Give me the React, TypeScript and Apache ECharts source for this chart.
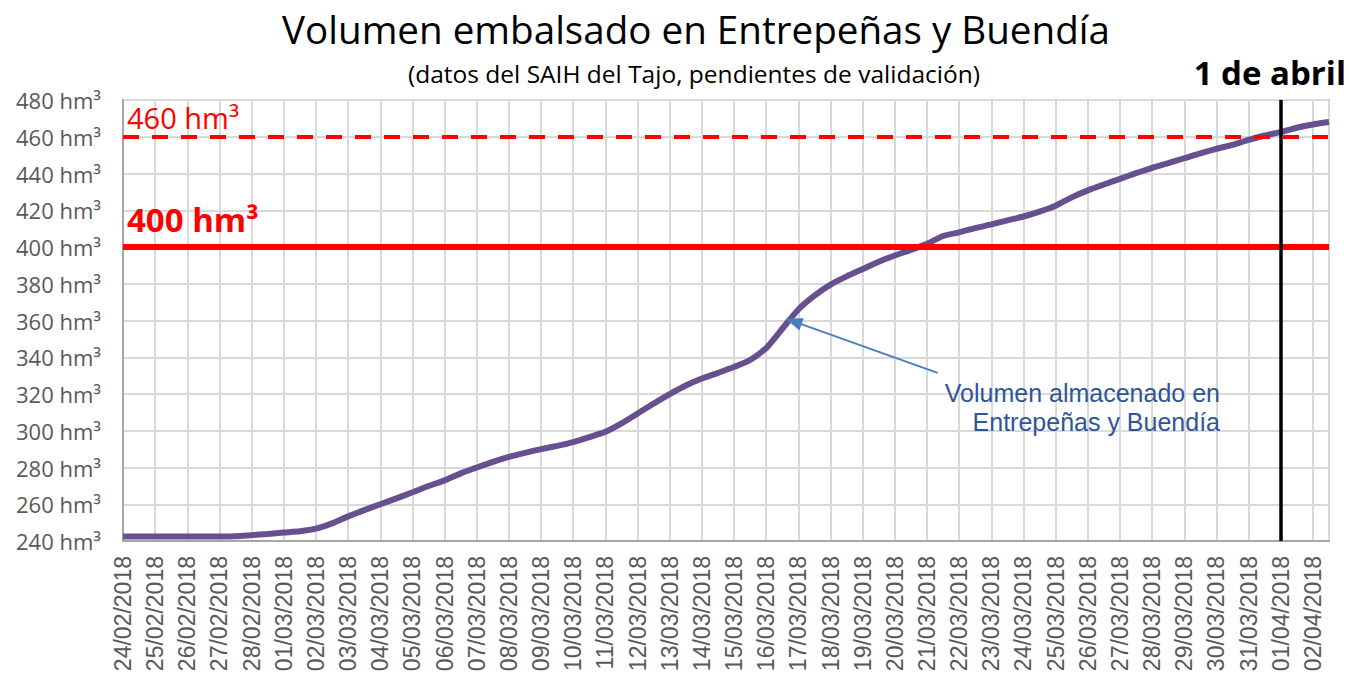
import React, { useEffect, useRef } from "react";
import * as echarts from "echarts";

const dates = [
  "24/02/2018", "25/02/2018", "26/02/2018", "27/02/2018", "28/02/2018",
  "01/03/2018", "02/03/2018", "03/03/2018", "04/03/2018", "05/03/2018",
  "06/03/2018", "07/03/2018", "08/03/2018", "09/03/2018", "10/03/2018",
  "11/03/2018", "12/03/2018", "13/03/2018", "14/03/2018", "15/03/2018",
  "16/03/2018", "17/03/2018", "18/03/2018", "19/03/2018", "20/03/2018",
  "21/03/2018", "22/03/2018", "23/03/2018", "24/03/2018", "25/03/2018",
  "26/03/2018", "27/03/2018", "28/03/2018", "29/03/2018", "30/03/2018",
  "31/03/2018", "01/04/2018", "02/04/2018",
];

// stored volume (hm³), one reading every half day starting 24/02/2018 00:00
const stepDays = 0.5;
const volume = [
  242.4, 242.4, 242.4, 242.4, 242.5, 242.5, 242.5, 242.6,
  243.2, 243.8, 244.6, 245.3, 246.7, 249.6, 253.4, 256.8,
  260.0, 263.2, 266.5, 269.9, 273.0, 276.8, 280.0, 283.1,
  285.8, 288.0, 290.0, 291.8, 293.8, 296.5, 299.4, 304.0,
  309.4, 314.8, 319.9, 324.6, 328.4, 331.5, 334.7, 338.5,
  345.0, 355.5, 366.0, 373.5, 379.5, 384.0, 388.0, 392.0,
  395.4, 398.4, 401.7, 406.0, 408.0, 410.3, 412.3, 414.5,
  416.6, 419.3, 422.5, 427.0, 430.8, 434.0, 437.1, 440.2,
  443.1, 445.6, 448.3, 451.0, 453.4, 455.6, 458.3, 460.7,
  462.5, 464.9, 466.7, 468.0,
];

const yTicks = { min: 240, max: 480, step: 20 };
const limitHigh = 460;
const limitLow = 400;
const markDayIndex = 36; // 01/04/2018
const arrowFrom = [25.33, 331.5];
const arrowTo = [20.85, 359.5];

export default function App() {
  const ref = useRef<HTMLDivElement>(null);

  useEffect(() => {
    const chart = echarts.init(ref.current!, null, { renderer: "svg" });
    const data = volume.map((v, i) => [i * stepDays, v]);
    const xMax = (volume.length - 1) * stepDays;

    chart.setOption({
      animation: false,
      backgroundColor: "#ffffff",
      grid: {
        left: 123,
        right: 20,
        top: 100,
        bottom: 135,
        show: true,
        borderColor: "#A6A6A6",
        borderWidth: 2,
        backgroundColor: "transparent",
      },
      xAxis: {
        type: "value",
        min: 0,
        max: xMax,
        interval: 1,
        axisLine: { show: true, lineStyle: { color: "#A6A6A6", width: 2 } },
        axisTick: { show: false },
        splitLine: { show: true, lineStyle: { color: "#D9D9D9", width: 2 } },
        axisLabel: {
          rotate: 90,
          margin: 15,
          color: "#595959",
          fontSize: 23,
          fontFamily: "Liberation Sans, Arial, sans-serif",
          showMaxLabel: false,
          formatter: (v: number) => {
            const r = Math.round(v);
            return Math.abs(v - r) < 1e-6 && dates[r] ? dates[r] : "";
          },
        },
      },
      yAxis: {
        type: "value",
        min: yTicks.min,
        max: yTicks.max,
        interval: yTicks.step,
        axisLine: { show: true, lineStyle: { color: "#A6A6A6", width: 2 } },
        axisTick: { show: false },
        splitLine: { show: true, lineStyle: { color: "#D9D9D9", width: 2 } },
        axisLabel: {
          margin: 22,
          color: "#595959",
          fontSize: 22,
          fontFamily: "Open Sans, sans-serif",
          formatter: (v: number) => `${v} hm³`,
        },
      },
      series: [
        {
          type: "line",
          data: [],
          z: 1,
          silent: true,
          markLine: {
            silent: true,
            symbol: ["none", "none"],
            label: { show: false },
            data: [
              { yAxis: limitHigh, lineStyle: { color: "#FF0000", width: 4, type: [16, 13] } },
              { yAxis: limitLow, lineStyle: { color: "#FF0000", width: 6, type: "solid" } },
              { xAxis: markDayIndex, lineStyle: { color: "#000000", width: 3.5, type: "solid" } },
            ],
          },
        },
        {
          type: "line",
          name: "Volumen almacenado en Entrepeñas y Buendía",
          data,
          z: 3,
          showSymbol: false,
          smooth: 0.2,
          lineStyle: { color: "#66508F", width: 6 },
          markLine: {
            silent: true,
            symbol: ["none", "triangle"],
            symbolSize: [13, 17],
            label: { show: false },
            lineStyle: { color: "#4A7EBB", width: 2, type: "solid" },
            data: [[{ coord: arrowFrom }, { coord: arrowTo }]],
          },
        },
      ],
      graphic: [
        {
          type: "text",
          style: {
            text: "Volumen embalsado en Entrepeñas y Buendía",
            x: 696,
            y: 29,
            align: "center",
            verticalAlign: "middle",
            fill: "#000000",
            font: "38.6px 'Open Sans', sans-serif",
          },
          z: 10,
        },
        {
          type: "text",
          style: {
            text: "(datos del SAIH del Tajo, pendientes de validación)",
            x: 694,
            y: 73,
            align: "center",
            verticalAlign: "middle",
            fill: "#000000",
            font: "24.5px 'Open Sans', sans-serif",
          },
          z: 10,
        },
        {
          type: "text",
          style: {
            text: "1 de abril",
            x: 1346,
            y: 72,
            align: "right",
            verticalAlign: "middle",
            fill: "#000000",
            font: "bold 33px 'Open Sans', sans-serif",
          },
          z: 10,
        },
        {
          type: "text",
          style: {
            text: "460 hm³",
            x: 127,
            y: 117,
            align: "left",
            verticalAlign: "middle",
            fill: "#FF0000",
            font: "29px 'Open Sans', sans-serif",
          },
          z: 10,
        },
        {
          type: "text",
          style: {
            text: "400 hm³",
            x: 127,
            y: 219,
            align: "left",
            verticalAlign: "middle",
            fill: "#FF0000",
            font: "bold 33px 'Open Sans', sans-serif",
          },
          z: 10,
        },
        {
          type: "text",
          style: {
            text: "Volumen almacenado en",
            x: 1220,
            y: 393,
            align: "right",
            verticalAlign: "middle",
            fill: "#2F5597",
            font: "25px 'Liberation Sans', Arial, sans-serif",
          },
          z: 10,
        },
        {
          type: "text",
          style: {
            text: "Entrepeñas y Buendía",
            x: 1220,
            y: 422,
            align: "right",
            verticalAlign: "middle",
            fill: "#2F5597",
            font: "25px 'Liberation Sans', Arial, sans-serif",
          },
          z: 10,
        },
      ],
    });

    return () => chart.dispose();
  }, []);

  return (
    <div
      ref={ref}
      style={{ position: "absolute", left: 0, top: 0, width: 1349, height: 676 }}
    />
  );
}
